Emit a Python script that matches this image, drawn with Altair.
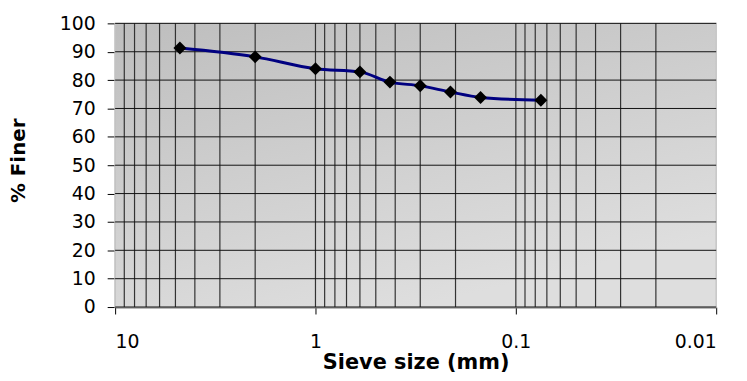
import altair as alt
import pandas as pd

# ---- data ----
sieve_mm = [4.75, 2.0, 1.0, 0.6, 0.425, 0.3, 0.212, 0.15, 0.075]
pct_finer = [91.3, 88.2, 84.0, 82.9, 79.3, 78.0, 75.8, 73.9, 72.9]

x_major = [10, 1, 0.1, 0.01]
x_grid = [k * m for m in (1, 0.1, 0.01) for k in range(2, 10)] + [1, 0.1]
y_grid = list(range(0, 101, 10))

W, H = 606, 286
FONT = "DejaVu Sans"

df = pd.DataFrame({"size": sieve_mm, "finer": pct_finer})
gx = pd.DataFrame({"size": x_grid})
gy = pd.DataFrame({"finer": y_grid})

xscale = alt.Scale(type="log", domain=[0.01, 10], reverse=True, nice=False)
yscale = alt.Scale(domain=[0, 100], nice=False)

xaxis = alt.Axis(
    values=x_major, format="~g", grid=False, title="Sieve size (mm)",
    tickColor="#000000", tickSize=7, domainColor="#777777", domainWidth=2,
    labelFont=FONT, labelFontSize=19, labelColor="#000000", labelPadding=19,
    titleFont=FONT, titleFontSize=21, titleFontWeight="bold", titleColor="#000000",
    titleY=56, titleBaseline="middle",
)
yaxis = alt.Axis(
    values=y_grid, grid=False, title="% Finer",
    tickColor="#000000", tickSize=8, domainColor="#000000", domainWidth=1.5,
    labelFont=FONT, labelFontSize=19, labelColor="#000000", labelPadding=12,
    titleFont=FONT, titleFontSize=20, titleFontWeight="bold", titleColor="#000000",
    titleX=-97, titleY=138, titleAngle=-90, titleBaseline="middle",
)

bg = alt.Chart(alt.Data(values=[{}])).mark_rect(
    fill=alt.LinearGradient(
        gradient="linear",
        stops=[alt.GradientStop(color="#bebebe", offset=0),
               alt.GradientStop(color="#dedede", offset=1)],
        x1=0, y1=0, x2=0.5, y2=1),
    stroke="#c6c6c6", strokeWidth=1.5,
).encode(x=alt.value(0), x2=alt.value(W), y=alt.value(0), y2=alt.value(H))

vrules = alt.Chart(gx).mark_rule(color="#333333", strokeWidth=1.2).encode(
    x=alt.X("size:Q", scale=xscale, axis=xaxis),
    y=alt.value(0), y2=alt.value(H),
)

hrules = alt.Chart(gy).mark_rule(color="#111111", strokeWidth=1).encode(
    y=alt.Y("finer:Q", scale=yscale, axis=yaxis),
    x=alt.value(0), x2=alt.value(W),
)

line = alt.Chart(df).mark_line(color="#000080", strokeWidth=3, interpolate="monotone").encode(
    x=alt.X("size:Q", scale=xscale, axis=xaxis),
    y=alt.Y("finer:Q", scale=yscale, axis=yaxis),
)
pts = alt.Chart(df).mark_point(shape="diamond", filled=True, color="#000000", size=170, opacity=1).encode(
    x=alt.X("size:Q", scale=xscale, axis=xaxis),
    y=alt.Y("finer:Q", scale=yscale, axis=yaxis),
)

chart = alt.layer(bg, vrules, hrules, line, pts).properties(
    width=W, height=H,
    autosize=alt.AutoSizeParams(type="none"),
    padding={"left": 108, "top": 14, "right": 23, "bottom": 65},
).configure_view(stroke=None)

chart.save("out.html", embed_options={"renderer": "svg", "actions": False})
